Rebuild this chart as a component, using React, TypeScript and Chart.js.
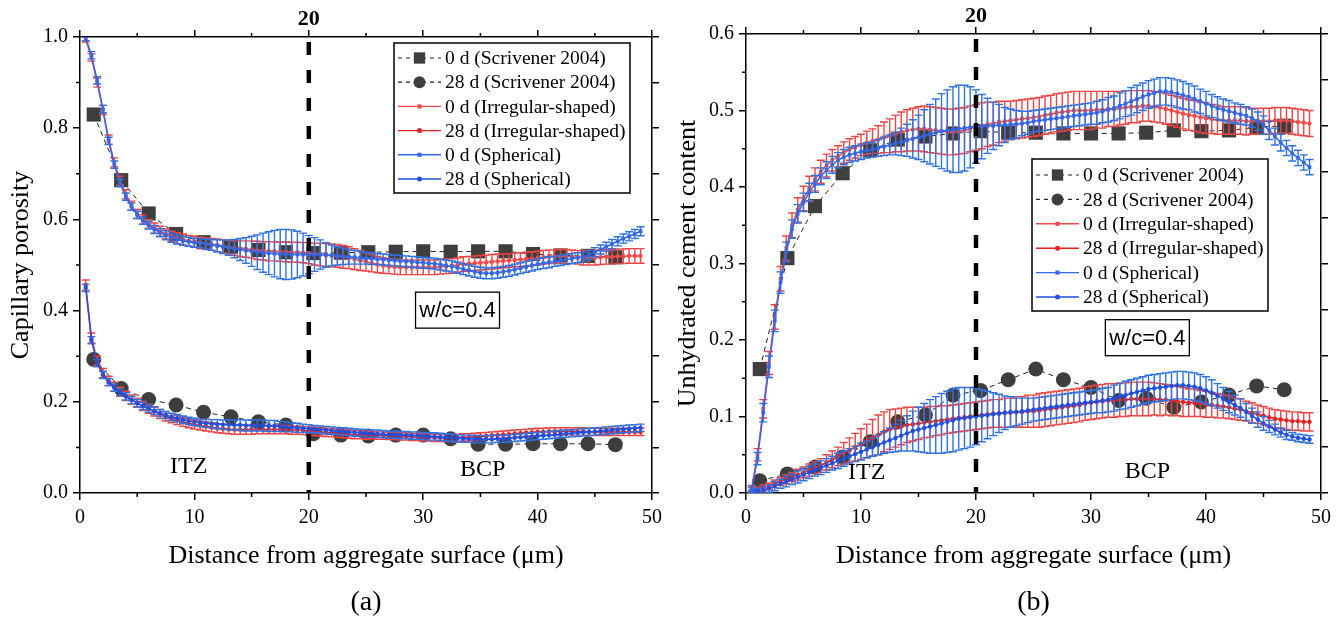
import { useEffect, useRef } from "react";
import { Chart, registerables } from "chart.js";

Chart.register(...registerables);

const FONT = "'Liberation Serif', 'Times New Roman', serif";
const SANS = "'Liberation Sans', Arial, sans-serif";

// ---------------- shared axes / categories ----------------
const distance = [
  0.5, 1, 1.5, 2, 2.5, 3, 3.5, 4, 4.5, 5,
  5.5, 6, 6.5, 7, 7.5, 8, 8.5, 9, 9.5, 10,
  10.5, 11, 11.5, 12, 12.5, 13, 13.5, 14, 14.5, 15,
  15.5, 16, 16.5, 17, 17.5, 18, 18.5, 19, 19.5, 20,
  20.5, 21, 21.5, 22, 22.5, 23, 23.5, 24, 24.5, 25,
  25.5, 26, 26.5, 27, 27.5, 28, 28.5, 29, 29.5, 30,
  30.5, 31, 31.5, 32, 32.5, 33, 33.5, 34, 34.5, 35,
  35.5, 36, 36.5, 37, 37.5, 38, 38.5, 39, 39.5, 40,
  40.5, 41, 41.5, 42, 42.5, 43, 43.5, 44, 44.5, 45,
  45.5, 46, 46.5, 47, 47.5, 48, 48.5, 49,
];
const scrivenerDistance = [1.2, 3.6, 6.0, 8.4, 10.8, 13.2, 15.6, 18.0, 20.4, 22.8, 25.2, 27.6, 30.0, 32.4, 34.8, 37.2, 39.6, 42.0, 44.4, 46.8];
const itzBoundary = [20];
const xMinorTicks = [5, 15, 25, 35, 45];
const poroMinorTicks = [0.1, 0.3, 0.5, 0.7, 0.9];
const unhydMinorTicks = [0.05, 0.15, 0.25, 0.35, 0.45, 0.55];
const seriesLabels = [
  "0 d (Scrivener 2004)",
  "28 d (Scrivener 2004)",
  "0 d (Irregular-shaped)",
  "28 d (Irregular-shaped)",
  "0 d (Spherical)",
  "28 d (Spherical)",
];

// ---------------- panel (a): capillary porosity ----------------
const poroScriv0d = [0.830, 0.686, 0.613, 0.568, 0.550, 0.540, 0.533, 0.528, 0.526, 0.527, 0.528, 0.529, 0.530, 0.529, 0.530, 0.530, 0.524, 0.521, 0.520, 0.517];
const poroScriv28d = [0.293, 0.229, 0.205, 0.193, 0.177, 0.167, 0.156, 0.149, 0.130, 0.127, 0.125, 0.127, 0.127, 0.119, 0.107, 0.107, 0.108, 0.108, 0.108, 0.106];

const poroIrr0d = [
  0.995, 0.955, 0.900, 0.840, 0.775, 0.725, 0.685, 0.655, 0.630, 0.612,
  0.600, 0.590, 0.581, 0.574, 0.568, 0.563, 0.559, 0.556, 0.553, 0.551,
  0.549, 0.547, 0.545, 0.543, 0.541, 0.539, 0.537, 0.536, 0.535, 0.534,
  0.532, 0.531, 0.530, 0.530, 0.529, 0.529, 0.528, 0.528, 0.527, 0.526,
  0.524, 0.523, 0.522, 0.521, 0.520, 0.518, 0.516, 0.513, 0.510, 0.507,
  0.504, 0.501, 0.499, 0.497, 0.496, 0.495, 0.495, 0.495, 0.495, 0.495,
  0.495, 0.495, 0.496, 0.497, 0.498, 0.500, 0.502, 0.503, 0.504, 0.505,
  0.506, 0.507, 0.508, 0.509, 0.510, 0.511, 0.512, 0.513, 0.514, 0.515,
  0.517, 0.518, 0.518, 0.519, 0.519, 0.518, 0.517, 0.516, 0.516, 0.516,
  0.517, 0.518, 0.518, 0.519, 0.519, 0.520, 0.520, 0.520,
];
const poroIrr0dErr = [
  0.006, 0.008, 0.010, 0.010, 0.010, 0.010, 0.010, 0.010, 0.010, 0.010,
  0.010, 0.010, 0.011, 0.011, 0.011, 0.011, 0.012, 0.012, 0.012, 0.012,
  0.012, 0.013, 0.013, 0.014, 0.014, 0.015, 0.016, 0.017, 0.018, 0.019,
  0.020, 0.020, 0.021, 0.021, 0.021, 0.022, 0.022, 0.022, 0.022, 0.023,
  0.024, 0.025, 0.025, 0.025, 0.025, 0.025, 0.024, 0.023, 0.022, 0.020,
  0.019, 0.018, 0.017, 0.016, 0.016, 0.016, 0.016, 0.016, 0.016, 0.016,
  0.016, 0.016, 0.016, 0.016, 0.016, 0.016, 0.016, 0.016, 0.016, 0.016,
  0.016, 0.016, 0.016, 0.015, 0.015, 0.015, 0.015, 0.015, 0.015, 0.015,
  0.015, 0.015, 0.015, 0.015, 0.015, 0.015, 0.015, 0.016, 0.016, 0.016,
  0.016, 0.016, 0.016, 0.016, 0.016, 0.016, 0.016, 0.016,
];
const poroSph0d = [
  0.998, 0.960, 0.905, 0.842, 0.772, 0.720, 0.680, 0.650, 0.628, 0.610,
  0.597, 0.587, 0.578, 0.571, 0.565, 0.560, 0.556, 0.553, 0.551, 0.549,
  0.548, 0.546, 0.544, 0.542, 0.540, 0.538, 0.536, 0.534, 0.532, 0.530,
  0.528, 0.527, 0.526, 0.525, 0.524, 0.523, 0.523, 0.523, 0.523, 0.523,
  0.523, 0.523, 0.522, 0.521, 0.520, 0.519, 0.518, 0.517, 0.516, 0.515,
  0.514, 0.513, 0.512, 0.511, 0.510, 0.509, 0.508, 0.507, 0.506, 0.505,
  0.504, 0.503, 0.501, 0.499, 0.497, 0.494, 0.491, 0.488, 0.485, 0.483,
  0.482, 0.482, 0.483, 0.485, 0.487, 0.490, 0.493, 0.496, 0.499, 0.502,
  0.504, 0.506, 0.508, 0.510, 0.512, 0.514, 0.516, 0.518, 0.522, 0.528,
  0.534, 0.540, 0.546, 0.552, 0.558, 0.563, 0.568, 0.574,
];
const poroSph0dErr = [
  0.006, 0.008, 0.008, 0.008, 0.008, 0.008, 0.008, 0.008, 0.008, 0.008,
  0.008, 0.008, 0.009, 0.009, 0.010, 0.010, 0.010, 0.010, 0.010, 0.010,
  0.010, 0.011, 0.012, 0.013, 0.015, 0.017, 0.020, 0.024, 0.028, 0.033,
  0.038, 0.043, 0.047, 0.051, 0.054, 0.055, 0.054, 0.051, 0.047, 0.042,
  0.037, 0.032, 0.027, 0.023, 0.020, 0.018, 0.016, 0.015, 0.014, 0.013,
  0.013, 0.012, 0.012, 0.012, 0.012, 0.012, 0.012, 0.012, 0.012, 0.012,
  0.012, 0.012, 0.012, 0.012, 0.012, 0.012, 0.012, 0.012, 0.012, 0.012,
  0.012, 0.012, 0.012, 0.012, 0.012, 0.012, 0.012, 0.012, 0.012, 0.012,
  0.012, 0.012, 0.011, 0.011, 0.011, 0.011, 0.011, 0.010, 0.010, 0.010,
  0.010, 0.010, 0.010, 0.010, 0.010, 0.010, 0.010, 0.010,
];
const poroIrr28d = [
  0.456, 0.340, 0.290, 0.263, 0.246, 0.233, 0.222, 0.213, 0.205, 0.198,
  0.191, 0.185, 0.179, 0.173, 0.168, 0.164, 0.160, 0.156, 0.153, 0.150,
  0.148, 0.146, 0.144, 0.142, 0.141, 0.140, 0.139, 0.139, 0.139, 0.139,
  0.139, 0.139, 0.139, 0.139, 0.139, 0.139, 0.138, 0.138, 0.137, 0.136,
  0.135, 0.134, 0.133, 0.132, 0.131, 0.130, 0.129, 0.128, 0.128, 0.127,
  0.127, 0.126, 0.126, 0.125, 0.125, 0.124, 0.124, 0.123, 0.123, 0.122,
  0.122, 0.121, 0.121, 0.121, 0.121, 0.121, 0.122, 0.122, 0.123, 0.124,
  0.125, 0.126, 0.127, 0.128, 0.129, 0.130, 0.131, 0.132, 0.133, 0.134,
  0.134, 0.135, 0.135, 0.135, 0.135, 0.135, 0.135, 0.135, 0.134, 0.134,
  0.134, 0.134, 0.134, 0.134, 0.134, 0.134, 0.134, 0.134,
];
const poroIrr28dErr = [
  0.011, 0.011, 0.010, 0.010, 0.010, 0.010, 0.010, 0.010, 0.010, 0.010,
  0.010, 0.010, 0.010, 0.010, 0.010, 0.010, 0.010, 0.010, 0.010, 0.010,
  0.010, 0.010, 0.010, 0.010, 0.010, 0.010, 0.010, 0.010, 0.010, 0.010,
  0.009, 0.009, 0.009, 0.009, 0.009, 0.009, 0.009, 0.009, 0.009, 0.009,
  0.009, 0.009, 0.009, 0.009, 0.009, 0.009, 0.009, 0.009, 0.009, 0.009,
  0.008, 0.008, 0.008, 0.008, 0.008, 0.008, 0.008, 0.008, 0.008, 0.008,
  0.008, 0.008, 0.008, 0.008, 0.008, 0.008, 0.008, 0.008, 0.008, 0.008,
  0.008, 0.008, 0.008, 0.008, 0.008, 0.008, 0.008, 0.008, 0.008, 0.008,
  0.008, 0.008, 0.008, 0.008, 0.008, 0.008, 0.008, 0.008, 0.008, 0.008,
  0.008, 0.008, 0.008, 0.008, 0.008, 0.008, 0.008, 0.008,
];
const poroSph28d = [
  0.450, 0.335, 0.285, 0.259, 0.243, 0.231, 0.221, 0.212, 0.204, 0.197,
  0.191, 0.185, 0.180, 0.175, 0.171, 0.167, 0.164, 0.161, 0.158, 0.156,
  0.154, 0.153, 0.152, 0.151, 0.150, 0.150, 0.149, 0.149, 0.148, 0.148,
  0.148, 0.148, 0.147, 0.147, 0.146, 0.145, 0.144, 0.143, 0.142, 0.141,
  0.140, 0.139, 0.138, 0.137, 0.136, 0.135, 0.134, 0.133, 0.132, 0.131,
  0.130, 0.130, 0.129, 0.128, 0.128, 0.127, 0.127, 0.126, 0.126, 0.125,
  0.124, 0.124, 0.123, 0.122, 0.121, 0.120, 0.119, 0.119, 0.118, 0.118,
  0.118, 0.118, 0.119, 0.119, 0.120, 0.121, 0.122, 0.123, 0.124, 0.125,
  0.126, 0.127, 0.128, 0.129, 0.130, 0.131, 0.132, 0.133, 0.134, 0.135,
  0.136, 0.137, 0.138, 0.139, 0.140, 0.141, 0.142, 0.143,
];
const poroSph28dErr = [
  0.008, 0.008, 0.008, 0.008, 0.008, 0.008, 0.008, 0.008, 0.008, 0.008,
  0.008, 0.008, 0.008, 0.008, 0.008, 0.008, 0.008, 0.008, 0.008, 0.008,
  0.008, 0.009, 0.009, 0.010, 0.010, 0.011, 0.011, 0.012, 0.012, 0.012,
  0.012, 0.012, 0.012, 0.012, 0.011, 0.011, 0.010, 0.010, 0.009, 0.009,
  0.008, 0.008, 0.008, 0.008, 0.008, 0.008, 0.008, 0.008, 0.008, 0.008,
  0.008, 0.008, 0.008, 0.008, 0.008, 0.008, 0.008, 0.008, 0.008, 0.008,
  0.008, 0.008, 0.008, 0.008, 0.008, 0.008, 0.008, 0.008, 0.008, 0.008,
  0.008, 0.008, 0.008, 0.008, 0.008, 0.008, 0.008, 0.008, 0.008, 0.008,
  0.008, 0.008, 0.008, 0.008, 0.008, 0.008, 0.008, 0.008, 0.008, 0.008,
  0.008, 0.008, 0.008, 0.008, 0.008, 0.008, 0.008, 0.008,
];

// ---------------- panel (b): unhydrated cement content ----------------
const unhydScriv0d = [0.162, 0.307, 0.375, 0.418, 0.448, 0.462, 0.466, 0.470, 0.473, 0.471, 0.471, 0.470, 0.470, 0.470, 0.471, 0.474, 0.473, 0.474, 0.478, 0.480];
const unhydScriv28d = [0.016, 0.025, 0.034, 0.047, 0.067, 0.093, 0.102, 0.128, 0.134, 0.148, 0.162, 0.148, 0.138, 0.121, 0.124, 0.112, 0.119, 0.128, 0.140, 0.135];

const unhydIrr0d = [
  0.006, 0.050, 0.110, 0.170, 0.230, 0.280, 0.320, 0.350, 0.370, 0.385,
  0.398, 0.410, 0.420, 0.428, 0.435, 0.440, 0.445, 0.449, 0.452, 0.455,
  0.458, 0.460, 0.462, 0.465, 0.467, 0.470, 0.472, 0.474, 0.475, 0.476,
  0.476, 0.475, 0.474, 0.473, 0.472, 0.472, 0.473, 0.474, 0.476, 0.478,
  0.480, 0.482, 0.483, 0.485, 0.486, 0.487, 0.488, 0.489, 0.490, 0.491,
  0.492, 0.494, 0.495, 0.497, 0.498, 0.499, 0.500, 0.500, 0.500, 0.500,
  0.501, 0.501, 0.502, 0.502, 0.503, 0.504, 0.505, 0.505, 0.506, 0.506,
  0.505, 0.504, 0.502, 0.500, 0.498, 0.496, 0.494, 0.493, 0.491, 0.490,
  0.489, 0.488, 0.487, 0.487, 0.487, 0.487, 0.486, 0.486, 0.486, 0.486,
  0.486, 0.487, 0.487, 0.487, 0.486, 0.485, 0.484, 0.483,
];
const unhydIrr0dErr = [
  0.004, 0.008, 0.012, 0.015, 0.016, 0.016, 0.016, 0.016, 0.016, 0.016,
  0.016, 0.015, 0.015, 0.015, 0.014, 0.014, 0.014, 0.014, 0.014, 0.014,
  0.015, 0.016, 0.018, 0.020, 0.022, 0.024, 0.026, 0.027, 0.028, 0.029,
  0.030, 0.030, 0.030, 0.030, 0.030, 0.030, 0.030, 0.030, 0.030, 0.030,
  0.030, 0.029, 0.028, 0.027, 0.026, 0.025, 0.025, 0.025, 0.025, 0.025,
  0.025, 0.025, 0.025, 0.025, 0.025, 0.025, 0.025, 0.025, 0.025, 0.025,
  0.024, 0.024, 0.023, 0.023, 0.022, 0.022, 0.021, 0.021, 0.020, 0.020,
  0.020, 0.020, 0.020, 0.020, 0.020, 0.020, 0.020, 0.020, 0.020, 0.020,
  0.019, 0.019, 0.018, 0.018, 0.018, 0.018, 0.018, 0.017, 0.017, 0.017,
  0.017, 0.017, 0.017, 0.017, 0.017, 0.017, 0.017, 0.017,
];
const unhydSph0d = [
  0.005, 0.045, 0.105, 0.165, 0.225, 0.275, 0.315, 0.345, 0.365, 0.380,
  0.393, 0.404, 0.414, 0.422, 0.429, 0.435, 0.439, 0.442, 0.444, 0.446,
  0.448, 0.449, 0.451, 0.453, 0.455, 0.457, 0.459, 0.461, 0.463, 0.465,
  0.467, 0.469, 0.471, 0.473, 0.474, 0.475, 0.476, 0.477, 0.478, 0.479,
  0.479, 0.480, 0.480, 0.481, 0.481, 0.482, 0.482, 0.483, 0.484, 0.486,
  0.487, 0.488, 0.489, 0.490, 0.491, 0.492, 0.493, 0.494, 0.495, 0.496,
  0.497, 0.499, 0.501, 0.503, 0.506, 0.509, 0.512, 0.515, 0.518, 0.521,
  0.523, 0.525, 0.525, 0.524, 0.522, 0.520, 0.518, 0.515, 0.512, 0.509,
  0.506, 0.503, 0.501, 0.499, 0.497, 0.495, 0.493, 0.490, 0.486, 0.481,
  0.474, 0.466, 0.458, 0.451, 0.444, 0.438, 0.432, 0.426,
];
const unhydSph0dErr = [
  0.004, 0.008, 0.012, 0.014, 0.014, 0.014, 0.013, 0.012, 0.012, 0.012,
  0.012, 0.011, 0.011, 0.011, 0.011, 0.010, 0.010, 0.010, 0.010, 0.010,
  0.010, 0.010, 0.011, 0.012, 0.013, 0.015, 0.018, 0.021, 0.025, 0.029,
  0.034, 0.039, 0.044, 0.049, 0.053, 0.056, 0.057, 0.056, 0.053, 0.048,
  0.042, 0.036, 0.031, 0.027, 0.023, 0.020, 0.018, 0.016, 0.015, 0.014,
  0.014, 0.014, 0.014, 0.014, 0.014, 0.014, 0.014, 0.014, 0.014, 0.014,
  0.015, 0.015, 0.016, 0.016, 0.017, 0.017, 0.018, 0.018, 0.018, 0.018,
  0.018, 0.018, 0.018, 0.018, 0.018, 0.018, 0.017, 0.017, 0.016, 0.016,
  0.015, 0.015, 0.014, 0.014, 0.013, 0.013, 0.012, 0.012, 0.012, 0.012,
  0.012, 0.011, 0.011, 0.010, 0.010, 0.010, 0.010, 0.010,
];
const unhydIrr28d = [
  0.004, 0.005, 0.007, 0.009, 0.012, 0.015, 0.018, 0.021, 0.024, 0.027,
  0.030, 0.033, 0.036, 0.040, 0.044, 0.048, 0.052, 0.056, 0.060, 0.064,
  0.068, 0.072, 0.076, 0.080, 0.083, 0.085, 0.087, 0.089, 0.090, 0.091,
  0.092, 0.093, 0.094, 0.095, 0.096, 0.097, 0.098, 0.099, 0.100, 0.101,
  0.102, 0.103, 0.104, 0.104, 0.105, 0.105, 0.106, 0.106, 0.107, 0.107,
  0.108, 0.109, 0.110, 0.111, 0.112, 0.113, 0.114, 0.115, 0.117, 0.118,
  0.119, 0.120, 0.121, 0.121, 0.122, 0.122, 0.123, 0.123, 0.123, 0.123,
  0.123, 0.122, 0.122, 0.121, 0.120, 0.119, 0.118, 0.118, 0.117, 0.116,
  0.115, 0.114, 0.113, 0.112, 0.110, 0.109, 0.107, 0.105, 0.103, 0.101,
  0.099, 0.097, 0.096, 0.095, 0.094, 0.094, 0.093, 0.093,
];
const unhydIrr28dErr = [
  0.003, 0.003, 0.004, 0.004, 0.005, 0.005, 0.006, 0.006, 0.007, 0.007,
  0.008, 0.008, 0.009, 0.010, 0.011, 0.012, 0.014, 0.016, 0.018, 0.020,
  0.022, 0.024, 0.026, 0.026, 0.026, 0.025, 0.024, 0.023, 0.022, 0.021,
  0.020, 0.020, 0.019, 0.019, 0.018, 0.018, 0.018, 0.018, 0.018, 0.018,
  0.018, 0.018, 0.018, 0.018, 0.019, 0.019, 0.020, 0.020, 0.021, 0.021,
  0.022, 0.022, 0.022, 0.022, 0.022, 0.022, 0.022, 0.022, 0.022, 0.022,
  0.022, 0.022, 0.022, 0.022, 0.022, 0.022, 0.022, 0.022, 0.022, 0.022,
  0.021, 0.021, 0.020, 0.020, 0.019, 0.019, 0.018, 0.018, 0.017, 0.017,
  0.016, 0.016, 0.015, 0.015, 0.014, 0.014, 0.013, 0.013, 0.012, 0.012,
  0.012, 0.012, 0.012, 0.012, 0.012, 0.012, 0.012, 0.012,
];
const unhydSph28d = [
  0.002, 0.003, 0.004, 0.006, 0.009, 0.012, 0.015, 0.018, 0.021, 0.024,
  0.027, 0.030, 0.033, 0.036, 0.039, 0.042, 0.045, 0.048, 0.051, 0.054,
  0.057, 0.060, 0.063, 0.066, 0.069, 0.072, 0.075, 0.078, 0.081, 0.083,
  0.085, 0.087, 0.089, 0.091, 0.093, 0.095, 0.097, 0.098, 0.099, 0.100,
  0.101, 0.102, 0.103, 0.104, 0.105, 0.106, 0.106, 0.107, 0.108, 0.109,
  0.110, 0.111, 0.112, 0.113, 0.114, 0.115, 0.116, 0.117, 0.118, 0.119,
  0.120, 0.121, 0.122, 0.124, 0.126, 0.128, 0.130, 0.132, 0.134, 0.136,
  0.137, 0.138, 0.139, 0.140, 0.141, 0.141, 0.140, 0.139, 0.137, 0.134,
  0.131, 0.127, 0.123, 0.119, 0.115, 0.111, 0.106, 0.101, 0.096, 0.091,
  0.087, 0.083, 0.079, 0.076, 0.074, 0.072, 0.071, 0.070,
];
const unhydSph28dErr = [
  0.002, 0.003, 0.004, 0.005, 0.006, 0.006, 0.007, 0.007, 0.008, 0.008,
  0.008, 0.008, 0.009, 0.009, 0.009, 0.010, 0.010, 0.010, 0.010, 0.011,
  0.011, 0.012, 0.013, 0.014, 0.016, 0.018, 0.020, 0.023, 0.026, 0.029,
  0.032, 0.035, 0.037, 0.039, 0.040, 0.041, 0.041, 0.040, 0.039, 0.037,
  0.034, 0.031, 0.028, 0.025, 0.022, 0.020, 0.018, 0.017, 0.016, 0.015,
  0.015, 0.015, 0.015, 0.015, 0.015, 0.015, 0.015, 0.015, 0.015, 0.015,
  0.015, 0.016, 0.016, 0.017, 0.017, 0.018, 0.018, 0.018, 0.018, 0.018,
  0.018, 0.018, 0.018, 0.018, 0.018, 0.018, 0.018, 0.018, 0.018, 0.018,
  0.017, 0.016, 0.015, 0.014, 0.013, 0.012, 0.011, 0.010, 0.010, 0.009,
  0.008, 0.007, 0.006, 0.006, 0.005, 0.005, 0.005, 0.005,
];

// ---------------- styling ----------------
const SCRIV_COLOR = "#3e3e3e";
const RED0 = "#f04a4a";
const RED28 = "#e62222";
const RED_ERR = "#f04444";
const BLUE0 = "#3366e8";
const BLUE28 = "#1f50e0";
const BLUE_ERR = "#2f72e3";

const pts = (xs: number[], ys: number[]) => xs.map((x, i) => ({ x, y: ys[i] }));

function scrivDataset(label: string, ys: number[], style: string, radius: number) {
  return {
    label,
    data: pts(scrivenerDistance, ys),
    borderColor: "#222",
    borderWidth: 1,
    borderDash: [5, 4],
    pointStyle: style,
    pointRadius: radius,
    pointBackgroundColor: SCRIV_COLOR,
    pointBorderColor: SCRIV_COLOR,
    pointBorderWidth: 0,
    tension: 0,
    order: 3,
    inLegend: true,
    legendDash: [4, 4],
  };
}

function simDataset(label: string, ys: number[], errs: number[], color: string, errColor: string, style: string, order: number) {
  return {
    label,
    data: pts(distance, ys),
    errors: errs,
    errorColor: errColor,
    borderColor: color,
    borderWidth: 1.5,
    pointStyle: style,
    pointRadius: style === "rect" ? 2.6 : 2.2,
    pointBackgroundColor: color,
    pointBorderColor: color,
    pointBorderWidth: 0,
    tension: 0,
    order,
    inLegend: true,
  };
}

function boundaryDataset(yMax: number) {
  return {
    label: "boundary",
    data: [
      { x: itzBoundary[0], y: yMax },
      { x: itzBoundary[0], y: 0 },
    ],
    borderColor: "#000",
    borderWidth: 4.5,
    borderDash: [13, 15],
    borderDashOffset: 23,
    pointRadius: 0,
    order: 0,
  };
}

const panelA = {
  key: "a",
  label: "(a)",
  yTitle: "Capillary porosity",
  yMax: 1,
  yStep: 0.2,
  yRightStep: 0.1,
  yMinor: poroMinorTicks,
  leftW: 80,
  topH: 37,
  yTitlePad: 5.4,
  legendBox: { x: 394, y: 43, w: 236, h: 150 },
  legendRow0: 58,
  legendGap: 24.2,
  wc: { x: 33, y: 0.401 },
  itz: { x: 9.5, y: 0.058 },
  bcp: { x: 35.2, y: 0.05 },
  datasets: [
    scrivDataset(seriesLabels[0], poroScriv0d, "rect", 10),
    scrivDataset(seriesLabels[1], poroScriv28d, "circle", 7.5),
    simDataset(seriesLabels[2], poroIrr0d, poroIrr0dErr, RED0, RED_ERR, "rect", 2),
    simDataset(seriesLabels[3], poroIrr28d, poroIrr28dErr, RED28, RED_ERR, "circle", 2),
    simDataset(seriesLabels[4], poroSph0d, poroSph0dErr, BLUE0, BLUE_ERR, "rect", 1),
    simDataset(seriesLabels[5], poroSph28d, poroSph28dErr, BLUE28, BLUE_ERR, "circle", 1),
    boundaryDataset(1),
  ],
};

const panelB = {
  key: "b",
  label: "(b)",
  yTitle: "Unhydrated cement content",
  yMax: 0.6,
  yStep: 0.1,
  yRightStep: 0.06,
  yMinor: unhydMinorTicks,
  leftW: 77,
  topH: 34,
  yTitlePad: 3.4,
  legendBox: { x: 363, y: 159, w: 236, h: 152 },
  legendRow0: 175,
  legendGap: 24.4,
  wc: { x: 34.9, y: 0.203 },
  itz: { x: 10.5, y: 0.026 },
  bcp: { x: 34.9, y: 0.028 },
  datasets: [
    scrivDataset(seriesLabels[0], unhydScriv0d, "rect", 10),
    scrivDataset(seriesLabels[1], unhydScriv28d, "circle", 7.5),
    simDataset(seriesLabels[2], unhydIrr0d, unhydIrr0dErr, RED0, RED_ERR, "rect", 2),
    simDataset(seriesLabels[3], unhydIrr28d, unhydIrr28dErr, RED28, RED_ERR, "circle", 2),
    simDataset(seriesLabels[4], unhydSph0d, unhydSph0dErr, BLUE0, BLUE_ERR, "rect", 1),
    simDataset(seriesLabels[5], unhydSph28d, unhydSph28dErr, BLUE28, BLUE_ERR, "circle", 1),
    boundaryDataset(0.6),
  ],
};

// ---------------- plugins ----------------
const errorBarPlugin = {
  id: "errorBars",
  beforeDatasetDraw(chart: any, args: any) {
    const ds = chart.data.datasets[args.index];
    if (!ds.errors) return;
    const { ctx, chartArea } = chart;
    const xs = chart.scales.x;
    const ys = chart.scales.y;
    ctx.save();
    ctx.beginPath();
    ctx.rect(chartArea.left, chartArea.top, chartArea.right - chartArea.left, chartArea.bottom - chartArea.top);
    ctx.clip();
    ctx.strokeStyle = ds.errorColor;
    ctx.lineWidth = 1.4;
    ctx.beginPath();
    ds.data.forEach((p: any, i: number) => {
      const e = ds.errors[i];
      const px = xs.getPixelForValue(p.x);
      const t = ys.getPixelForValue(p.y + e);
      const b = ys.getPixelForValue(p.y - e);
      ctx.moveTo(px, t);
      ctx.lineTo(px, b);
      ctx.moveTo(px - 4, t);
      ctx.lineTo(px + 4, t);
      ctx.moveTo(px - 4, b);
      ctx.lineTo(px + 4, b);
    });
    ctx.stroke();
    ctx.restore();
  },
};

function drawMarker(ctx: any, style: string, x: number, y: number, r: number, color: string) {
  ctx.fillStyle = color;
  ctx.beginPath();
  if (style === "rect") {
    const s = r * Math.SQRT1_2;
    ctx.rect(x - s, y - s, 2 * s, 2 * s);
  } else {
    ctx.arc(x, y, r, 0, Math.PI * 2);
  }
  ctx.fill();
}

function extrasPlugin(p: any) {
  return {
    id: "extras" + p.key,
    afterDatasetsDraw(chart: any) {
      const { ctx } = chart;
      const xs = chart.scales.x;
      const ys = chart.scales.y;
      ctx.save();
      // region labels
      ctx.fillStyle = "#000";
      ctx.textAlign = "center";
      ctx.textBaseline = "middle";
      ctx.font = `24px ${FONT}`;
      ctx.fillText("ITZ", xs.getPixelForValue(p.itz.x), ys.getPixelForValue(p.itz.y));
      ctx.fillText("BCP", xs.getPixelForValue(p.bcp.x), ys.getPixelForValue(p.bcp.y));
      // w/c box
      const wx = xs.getPixelForValue(p.wc.x);
      const wy = ys.getPixelForValue(p.wc.y);
      ctx.fillStyle = "#fff";
      ctx.fillRect(wx - 42, wy - 18, 84, 36);
      ctx.strokeStyle = "#000";
      ctx.lineWidth = 1.3;
      ctx.strokeRect(wx - 42, wy - 18, 84, 36);
      ctx.fillStyle = "#000";
      ctx.font = `22px ${SANS}`;
      ctx.fillText("w/c=0.4", wx, wy + 1);
      // legend
      const lb = p.legendBox;
      ctx.fillStyle = "#fff";
      ctx.fillRect(lb.x, lb.y, lb.w, lb.h);
      ctx.strokeStyle = "#000";
      ctx.lineWidth = 1.5;
      ctx.strokeRect(lb.x, lb.y, lb.w, lb.h);
      const entries = chart.data.datasets.filter((d: any) => d.inLegend);
      entries.forEach((d: any, i: number) => {
        const y = p.legendRow0 + i * p.legendGap;
        const x0 = lb.x + 4;
        const x1 = x0 + 43;
        ctx.save();
        ctx.strokeStyle = d.legendDash ? "#222" : d.borderColor;
        ctx.lineWidth = d.legendDash ? 1.2 : 1.4;
        ctx.setLineDash(d.legendDash || []);
        ctx.beginPath();
        ctx.moveTo(x0, y);
        ctx.lineTo(x1, y);
        ctx.stroke();
        ctx.setLineDash([]);
        const r = d.legendDash ? d.pointRadius * 0.8 : d.pointRadius + 0.3;
        drawMarker(ctx, d.pointStyle, (x0 + x1) / 2, y, r, d.pointBackgroundColor);
        ctx.restore();
        ctx.fillStyle = "#000";
        ctx.textAlign = "left";
        ctx.textBaseline = "middle";
        ctx.font = `19.5px ${FONT}`;
        ctx.fillText(d.label, x1 + 4, y + 1);
      });
      ctx.restore();
    },
    afterDraw(chart: any) {
      const { ctx, chartArea } = chart;
      const { left, right, top, bottom } = chartArea;
      const xs = chart.scales.x;
      const ys = chart.scales.y;
      ctx.save();
      ctx.strokeStyle = "#000";
      ctx.lineWidth = 1.5;
      ctx.beginPath();
      xMinorTicks.forEach((v) => {
        const px = xs.getPixelForValue(v);
        ctx.moveTo(px, bottom);
        ctx.lineTo(px, bottom + 4);
        ctx.moveTo(px, top);
        ctx.lineTo(px, top - 4);
      });
      p.yMinor.forEach((v: number) => {
        const py = ys.getPixelForValue(v);
        ctx.moveTo(left, py);
        ctx.lineTo(left - 4, py);
      });
      ctx.stroke();
      ctx.fillStyle = "#000";
      ctx.textAlign = "center";
      ctx.textBaseline = "middle";
      ctx.font = `28px ${FONT}`;
      ctx.fillText(p.label, (left + right) / 2, 603);
      ctx.restore();
    },
  };
}

function makeConfig(p: any): any {
  const gridOpts = {
    drawOnChartArea: false,
    drawTicks: true,
    tickLength: 7,
    color: "#000",
    lineWidth: 1.5,
  };
  const border = { display: true, color: "#000", width: 1.5 };
  return {
    type: "line",
    data: { datasets: p.datasets },
    options: {
      responsive: false,
      animation: false,
      events: [],
      layout: { padding: 0 },
      plugins: { legend: { display: false }, tooltip: { enabled: false } },
      scales: {
        x: {
          type: "linear",
          position: "bottom",
          min: 0,
          max: 50,
          ticks: { stepSize: 10, autoSkip: false, maxRotation: 0, color: "#000", padding: 6, font: { size: 20, family: FONT } },
          grid: gridOpts,
          border,
          title: {
            display: true,
            text: "Distance from aggregate surface (μm)",
            color: "#000",
            font: { size: 26, family: FONT },
            padding: { top: 0, bottom: 49 },
          },
          afterFit: (s: any) => {
            s.height = 128;
          },
        },
        xTop: {
          type: "linear",
          position: "top",
          min: 0,
          max: 50,
          ticks: {
            stepSize: 10,
            autoSkip: false,
            maxRotation: 0,
            color: "#000",
            padding: 0,
            callback: (v: any) => (v === itzBoundary[0] ? String(v) : ""),
            font: { size: 22, weight: "bold", family: FONT, lineHeight: 1 },
          },
          grid: gridOpts,
          border,
          afterFit: (s: any) => {
            s.height = p.topH;
          },
        },
        y: {
          type: "linear",
          position: "left",
          min: 0,
          max: p.yMax,
          ticks: {
            stepSize: p.yStep,
            autoSkip: false,
            color: "#000",
            padding: 5,
            font: { size: 20, family: FONT },
            callback: (v: any) => Number(v).toFixed(1),
          },
          grid: gridOpts,
          border,
          title: {
            display: true,
            text: p.yTitle,
            color: "#000",
            font: { size: 26, family: FONT },
            padding: { top: p.yTitlePad, bottom: 0 },
          },
          afterFit: (s: any) => {
            s.width = p.leftW;
          },
        },
        yRight: {
          type: "linear",
          position: "right",
          min: 0,
          max: p.yMax,
          ticks: { display: false, stepSize: p.yRightStep, autoSkip: false },
          grid: gridOpts,
          border,
          afterFit: (s: any) => {
            s.width = 17;
          },
        },
      },
    },
    plugins: [errorBarPlugin, extrasPlugin(p)],
  };
}

export default function App() {
  const refA = useRef<HTMLCanvasElement | null>(null);
  const refB = useRef<HTMLCanvasElement | null>(null);
  useEffect(() => {
    const a = new Chart(refA.current as any, makeConfig(panelA));
    const b = new Chart(refB.current as any, makeConfig(panelB));
    return () => {
      a.destroy();
      b.destroy();
    };
  }, []);
  return (
    <div style={{ position: "absolute", left: 0, top: 0, width: 1338, height: 621, background: "#fff", overflow: "hidden" }}>
      <canvas ref={refA} width={669} height={621} style={{ position: "absolute", left: 0, top: 0 }} />
      <canvas ref={refB} width={669} height={621} style={{ position: "absolute", left: 669, top: 0 }} />
    </div>
  );
}
